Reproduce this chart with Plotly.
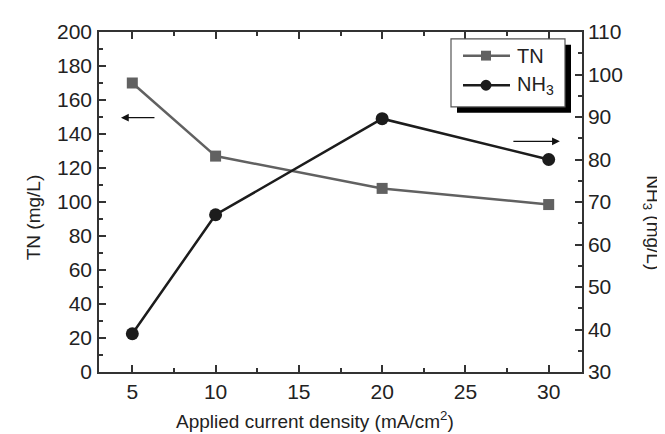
import plotly.graph_objects as go

# Data
current_density = [5, 10, 20, 30]
tn_values = [170, 127, 108, 98.5]
nh3_values = [39, 67, 89.6, 80]

x_ticks = [5, 10, 15, 20, 25, 30]

W, H = 665, 434
L, R, T, B = 91, 91, 19, 70
PW, PH = W - L - R, H - T - B

def px(xp):
    return (xp - L) / PW

def py(yp):
    return (H - B - yp) / PH

font_family = "Liberation Sans, Arial, sans-serif"
axis_color = "#333333"
text_color = "#222222"
tn_color = "#616161"
nh3_color = "#1c1c1c"

fig = go.Figure()
fig.add_trace(go.Scatter(
    x=current_density, y=tn_values, name="TN", mode="lines+markers",
    line=dict(color=tn_color, width=2.5),
    marker=dict(symbol="square", size=11, color=tn_color),
    yaxis="y", showlegend=False,
))
fig.add_trace(go.Scatter(
    x=current_density, y=nh3_values, name="NH<sub>3</sub>", mode="lines+markers",
    line=dict(color=nh3_color, width=2.5),
    marker=dict(symbol="circle", size=13, color=nh3_color),
    yaxis="y2", showlegend=False,
))

tickfont = dict(family=font_family, size=21, color=text_color)
common = dict(showline=True, linecolor=axis_color, linewidth=1.5, ticks="inside",
              ticklen=7, tickwidth=1.5, tickcolor=axis_color, showgrid=False,
              zeroline=False, tickfont=tickfont)

fig.update_layout(
    width=W, height=H,
    margin=dict(l=L, r=R, t=T, b=B),
    plot_bgcolor="white", paper_bgcolor="white",
    xaxis=dict(range=[3, 32], tickvals=x_ticks, mirror="ticks",
               minor=dict(dtick=2.5, tick0=0, ticks="inside", ticklen=4, tickcolor=axis_color, tickwidth=1.5),
               **common),
    yaxis=dict(range=[0, 200], dtick=20, tick0=0, ticklabelstandoff=1,
               minor=dict(dtick=10, ticks="inside", ticklen=4, tickcolor=axis_color, tickwidth=1.5),
               **common),
    yaxis2=dict(range=[30, 110], dtick=10, tick0=30, overlaying="y", side="right",
                minor=dict(dtick=5, ticks="inside", ticklen=4, tickcolor=axis_color, tickwidth=1.5),
                **common),
)

title_font = dict(family=font_family, size=19, color=text_color)
# Axis titles
fig.add_annotation(text="Applied current density (mA/cm<sup>2</sup>)", xref="paper", yref="paper",
                   x=px(307), y=py(413), xanchor="center", yanchor="middle",
                   showarrow=False, font=title_font)
fig.add_annotation(text="TN (mg/L)", xref="paper", yref="paper",
                   x=px(25), y=py(207), xanchor="center", yanchor="middle",
                   showarrow=False, textangle=-90, font=title_font)
fig.add_annotation(text="NH<sub>3</sub> (mg/L)", xref="paper", yref="paper",
                   x=px(644), y=py(212), xanchor="center", yanchor="middle",
                   showarrow=False, textangle=90, font=title_font)

# Arrows indicating axes
fig.add_annotation(x=4.32, y=149.6, ax=6.42, ay=149.6, xref="x", yref="y",
                   axref="x", ayref="y", showarrow=True, arrowhead=2, arrowsize=1.2,
                   arrowwidth=1.3, arrowcolor="#111111", text="")
fig.add_annotation(x=30.67, y=135.7, ax=27.79, ay=135.7, xref="x", yref="y",
                   axref="x", ayref="y", showarrow=True, arrowhead=2, arrowsize=1.2,
                   arrowwidth=1.3, arrowcolor="#111111", text="")

# Manual legend with shadow
shapes = []
shapes.append(dict(type="rect", xref="paper", yref="paper", x0=px(449), x1=px(563),
                   y0=py(101), y1=py(32), fillcolor="black", line=dict(width=0), layer="above"))
shapes.append(dict(type="rect", xref="paper", yref="paper", x0=px(443), x1=px(557),
                   y0=py(95), y1=py(26), fillcolor="white", line=dict(color="#555555", width=1.2), layer="above"))
for row_y, col, sym in [(43, tn_color, "square"), (73, nh3_color, "circle")]:
    shapes.append(dict(type="line", xref="paper", yref="paper", x0=px(455), x1=px(502),
                       y0=py(row_y), y1=py(row_y), line=dict(color=col, width=2.5), layer="above"))
    r = 5 if sym == "square" else 5.5
    shapes.append(dict(type="rect" if sym == "square" else "circle", xref="paper", yref="paper",
                       x0=px(478 - r), x1=px(478 + r), y0=py(row_y + r), y1=py(row_y - r),
                       fillcolor=col, line=dict(width=0), layer="above"))
fig.update_layout(shapes=shapes)

for row_y, label in [(43, "TN"), (73, "NH<sub>3</sub>")]:
    fig.add_annotation(text=label, xref="paper", yref="paper", x=px(507), y=py(row_y),
                       xanchor="left", yanchor="middle", showarrow=False,
                       font=dict(family=font_family, size=20, color=text_color))

fig.write_html("out.html")
